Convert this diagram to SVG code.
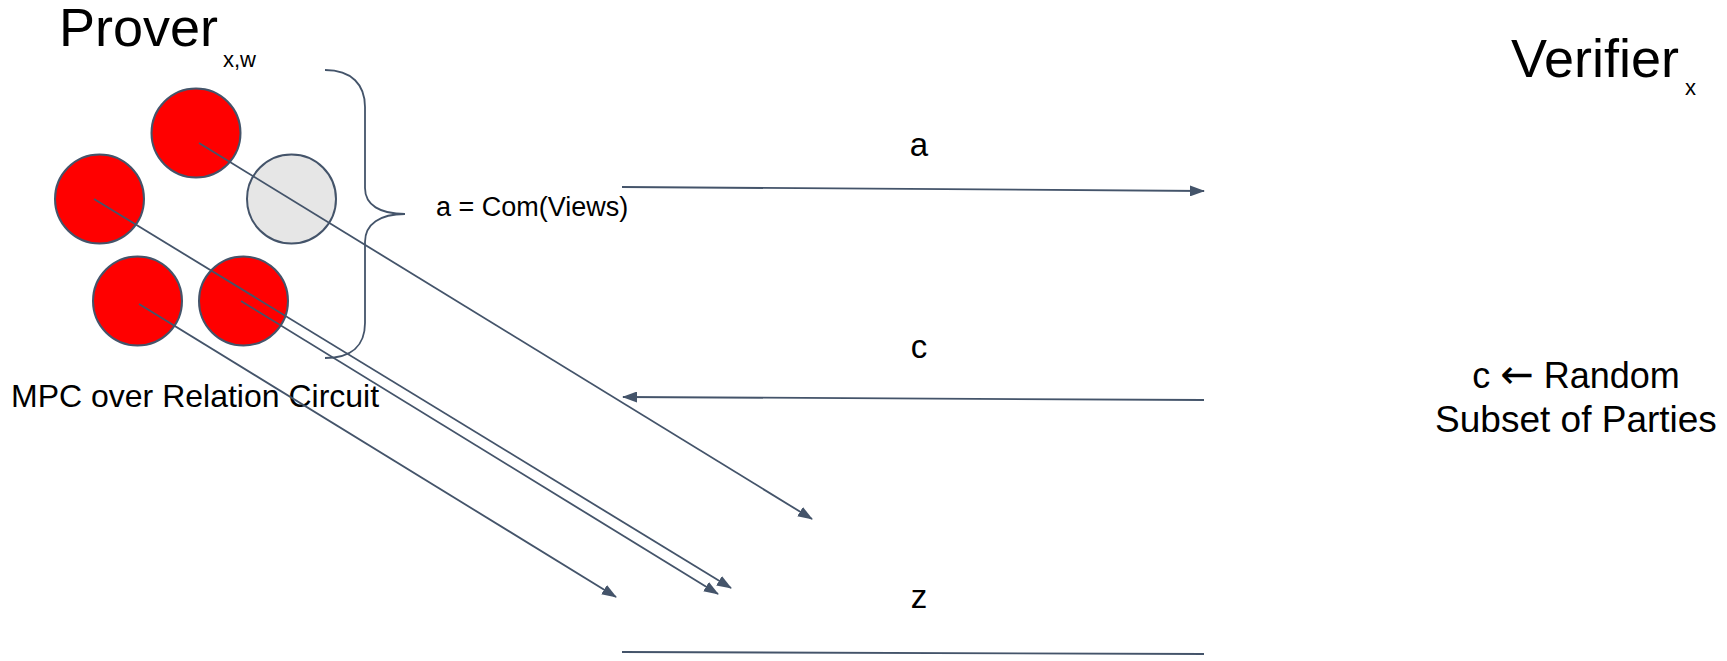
<svg xmlns="http://www.w3.org/2000/svg" width="1727" height="661" viewBox="0 0 1727 661">
<style>
text{font-family:"Liberation Sans",Arial,sans-serif;fill:#000}
.party{stroke:#44546a;stroke-width:2}
.red{fill:#ff0000}
.gray{fill:#e6e6e6}
.conn{stroke:#44546a;stroke-width:1.8;fill:none}
</style>
<defs>
<marker id="ah" markerUnits="userSpaceOnUse" markerWidth="15" markerHeight="11" refX="14" refY="5.5" orient="auto">
<path d="M0,0 L15,5.5 L0,11 z" fill="#44546a"/>
</marker>
</defs>
<rect width="1727" height="661" fill="#fff"/>
<g id="prover-title">
<text x="59" y="46" font-size="54">Prover</text>
<text x="223" y="67" font-size="22">x,w</text>
</g>
<g id="verifier-title">
<text x="1511" y="77" font-size="54">Verifier</text>
<text x="1685" y="95" font-size="22">x</text>
</g>
<g id="party-top"><circle class="party red" cx="196" cy="133" r="44.5"/></g>
<g id="party-left"><circle class="party red" cx="99.5" cy="199" r="44.5"/></g>
<g id="party-gray"><circle class="party gray" cx="291.5" cy="199" r="44.5"/></g>
<g id="party-bottom-left"><circle class="party red" cx="137.5" cy="301" r="44.5"/></g>
<g id="party-bottom-right"><circle class="party red" cx="243.5" cy="301" r="44.5"/></g>
<g id="brace">
<path class="conn" d="M325,70 C352,70 365,85 365,107 L365,188 C365,205 380,214 405,214 C380,214 365,224 365,242 L365,323 C365,345 352,358 325,358"/>
<text x="436" y="216" font-size="27">a = Com(Views)</text>
</g>
<g id="mpc-label"><text x="11" y="407" font-size="32">MPC over Relation Circuit</text></g>
<g id="verifier-challenge">
<text x="1576" y="388" font-size="36" text-anchor="middle">c <tspan font-family="'DejaVu Sans',sans-serif" font-size="40">←</tspan> Random</text>
<text x="1576" y="432" font-size="37" text-anchor="middle">Subset of Parties</text>
</g>
<g id="connectors">
<line class="conn" x1="199" y1="143" x2="812" y2="519" marker-end="url(#ah)"/>
<line class="conn" x1="94" y1="199" x2="731" y2="588" marker-end="url(#ah)"/>
<line class="conn" x1="241" y1="301" x2="718" y2="594" marker-end="url(#ah)"/>
<line class="conn" x1="139" y1="304" x2="616" y2="597" marker-end="url(#ah)"/>
<line class="conn" x1="622" y1="187" x2="1204" y2="191" marker-end="url(#ah)"/>
<line class="conn" x1="1204" y1="400" x2="623" y2="397" marker-end="url(#ah)"/>
<line class="conn" x1="622" y1="652" x2="1204" y2="654"/>
</g>
<g id="message-labels">
<text x="919" y="156" font-size="33" text-anchor="middle">a</text>
<text x="919" y="358" font-size="33" text-anchor="middle">c</text>
<text x="919" y="608" font-size="33" text-anchor="middle">z</text>
</g>
</svg>
